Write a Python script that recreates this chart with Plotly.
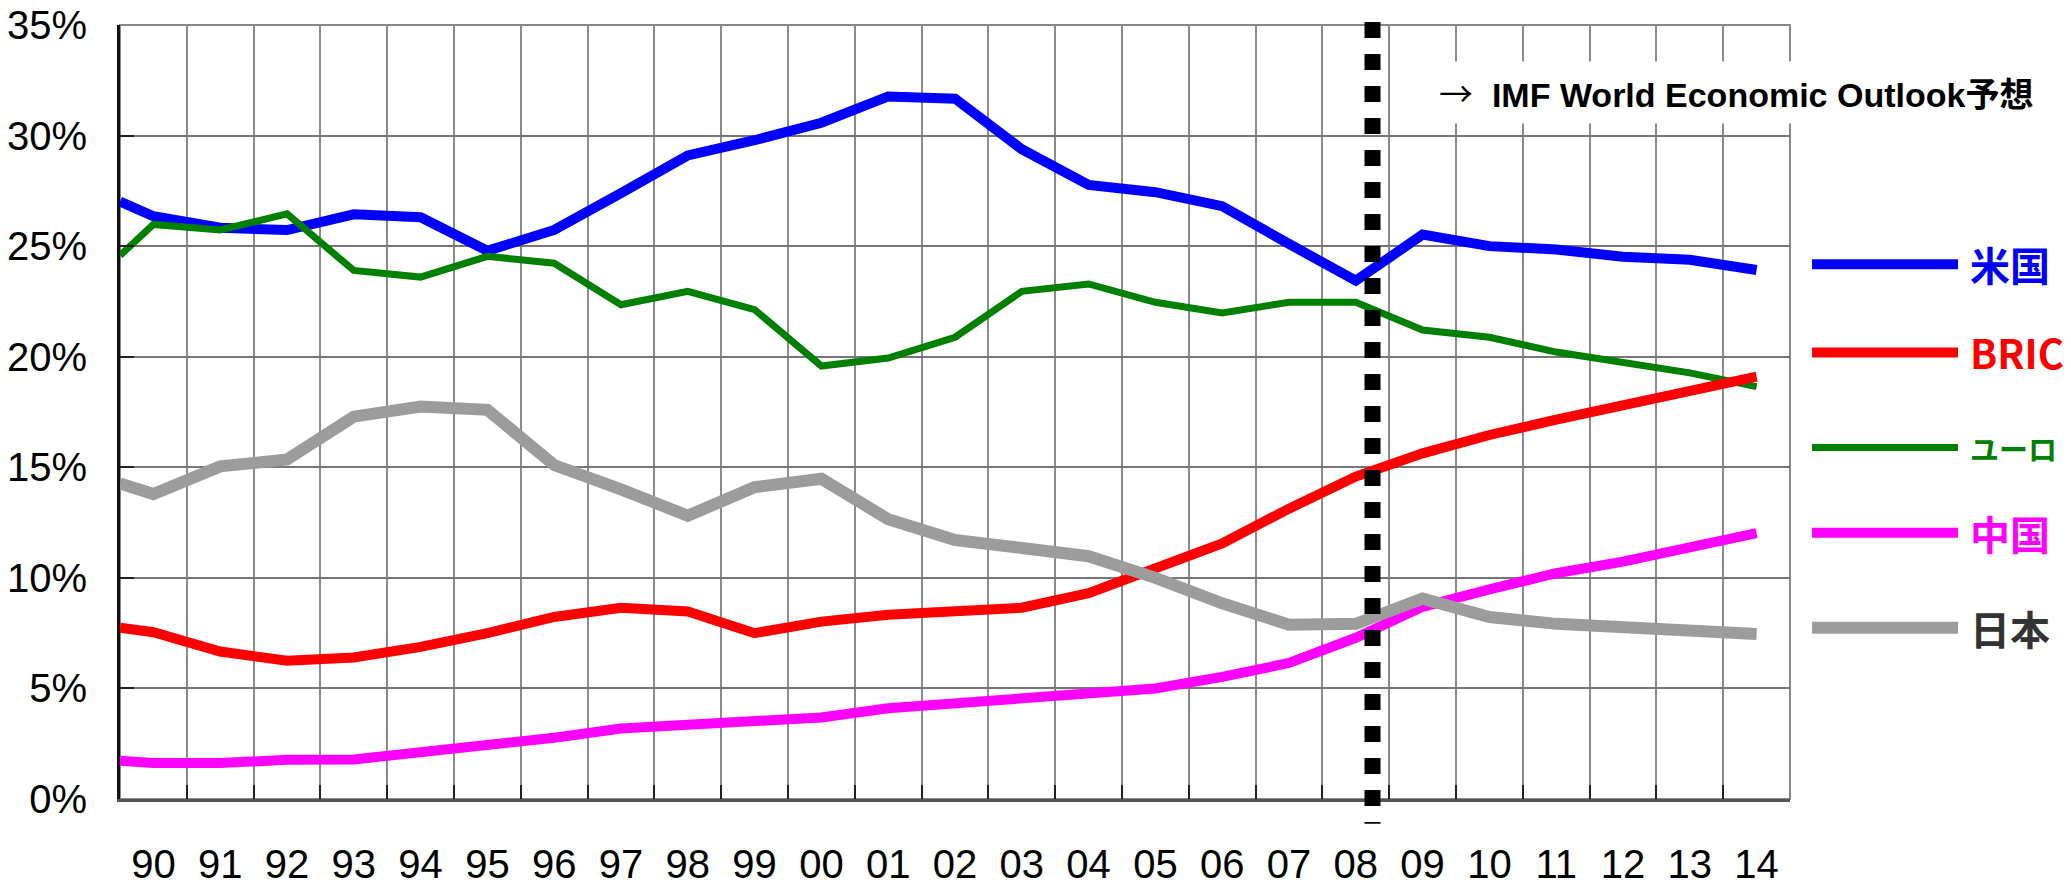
import plotly.graph_objects as go

# Year positions: the first point sits on the left frame edge, then 1990-2014
years = list(range(1990, 2015))
x_pos = [1989.5] + years
year_labels = [f"{y % 100:02d}" for y in years]

# Share of world GDP (%)
usa = [27.02, 26.35, 25.83, 25.73, 26.44, 26.31, 24.79, 25.73, 27.40, 29.10, 29.79, 30.58, 31.77,
       31.67, 29.38, 27.77, 27.44, 26.81, 25.10, 23.44, 25.52, 25.00, 24.85, 24.52, 24.38, 23.92]
bric = [7.75, 7.54, 6.67, 6.25, 6.40, 6.88, 7.50, 8.23, 8.65, 8.48, 7.50, 8.02, 8.33,
        8.46, 8.65, 9.31, 10.42, 11.56, 13.13, 14.58, 15.63, 16.46, 17.15, 17.81, 18.44, 19.10]
euro = [24.58, 25.98, 25.73, 26.46, 23.90, 23.60, 24.54, 24.23, 22.35, 22.96, 22.13, 19.58, 19.94,
        20.88, 22.96, 23.29, 22.46, 21.98, 22.46, 22.46, 21.21, 20.88, 20.21, 19.73, 19.27, 18.65]
china = [1.73, 1.63, 1.63, 1.77, 1.79, 2.08, 2.42, 2.77, 3.19, 3.38, 3.54, 3.69, 4.10,
         4.31, 4.48, 4.69, 5.00, 5.52, 6.15, 7.29, 8.69, 9.48, 10.21, 10.73, 11.35, 12.02]
japan = [14.27, 13.79, 15.04, 15.35, 17.29, 17.75, 17.60, 15.10, 14.00, 12.81, 14.10, 14.48, 12.65,
         11.71, 11.35, 10.98, 10.00, 8.85, 7.88, 7.92, 9.06, 8.23, 7.92, 7.77, 7.65, 7.46]

series_names = ["米国", "BRIC", "ユーロ", "中国", "日本"]
series_values = [usa, bric, euro, china, japan]
series_colors = ["#0000FF", "#FF0000", "#008000", "#FF00FF", "#9c9c9c"]
series_widths = [10, 10, 7, 10, 12]
label_colors = ["#0000FF", "#FF0000", "#008000", "#FF00FF", "#333333"]
label_sizes = [40, 40, 29, 40, 40]
# drawing order (bottom to top)
draw_order = [0, 2, 1, 3, 4]

forecast_arrow = "→"
forecast_note = "IMF World Economic Outlook予想"

LATIN = "Liberation Sans, Arial, sans-serif"
CJK = "Noto Sans CJK JP, sans-serif"

fig = go.Figure()
for i in draw_order:
    fig.add_trace(go.Scatter(
        x=x_pos, y=series_values[i], mode="lines", name=series_names[i],
        line=dict(color=series_colors[i], width=series_widths[i]),
        showlegend=False, hoverinfo="skip",
    ))

# frame-right legend: long line swatch + coloured label
legend_y = [0.6908, 0.5770, 0.4541, 0.3441, 0.2212]
for i, yy in enumerate(legend_y):
    fig.add_shape(type="line", xref="paper", yref="paper",
                  x0=1.0132, x1=1.1006, y0=yy, y1=yy,
                  line=dict(color=series_colors[i], width=series_widths[i]))
    fig.add_annotation(xref="paper", yref="paper", x=1.1066, y=yy,
                       xanchor="left", yanchor="middle", showarrow=False,
                       text=f"<b>{series_names[i]}</b>",
                       font=dict(family=CJK, size=label_sizes[i], color=label_colors[i]))

# forecast boundary
fig.add_shape(type="line", xref="paper", yref="paper", x0=0.75, x1=0.75,
              y0=1.0039, y1=-0.032, layer="above",
              line=dict(color="black", width=16, dash="16px,16px"))

fig.add_annotation(xref="paper", yref="paper", x=0.7856, y=0.913,
                   xanchor="left", yanchor="middle", showarrow=False,
                   text=(f"<span style='font-family:Noto Sans CJK JP'>{forecast_arrow}</span>"
                         f"  <b>{forecast_note}</b>"),
                   bgcolor="white", borderpad=6,
                   font=dict(family="Liberation Sans, Noto Sans CJK JP", size=34, color="black"))

# plot frame
fig.add_shape(type="rect", xref="paper", yref="paper", x0=0, x1=1, y0=0, y1=1,
              line=dict(color="#888888", width=2), layer="below")

fig.update_layout(
    width=2071, height=885,
    margin=dict(l=120, r=281, t=25, b=86),
    paper_bgcolor="white", plot_bgcolor="white",
    showlegend=False,
    font=dict(family=LATIN, size=40, color="black"),
)
fig.update_xaxes(
    range=[1989.5, 2014.5], tickmode="array", tickvals=years, ticktext=year_labels,
    ticks="", showgrid=False, zeroline=False, automargin=False,
    showline=True, linecolor="#555555", linewidth=3,
    ticklabelstandoff=28,
    tickfont=dict(family=LATIN, size=40, color="black"),
    minor=dict(tickmode="array", tickvals=[y - 0.5 for y in years[1:]],
               ticks="inside", ticklen=14, tickcolor="#222222", tickwidth=2,
               showgrid=True, gridcolor="#8c8c8c", gridwidth=1.5),
)
fig.update_yaxes(
    range=[0, 35], tickmode="linear", tick0=0, dtick=5, ticksuffix="%",
    ticks="inside", ticklen=14, tickcolor="#222222", tickwidth=2,
    showgrid=True, gridcolor="#777777", gridwidth=1.5, zeroline=False, automargin=False,
    showline=True, linecolor="#111111", linewidth=3,
    ticklabelstandoff=22,
    tickfont=dict(family=LATIN, size=40, color="black"),
)

fig.write_html("out.html")
